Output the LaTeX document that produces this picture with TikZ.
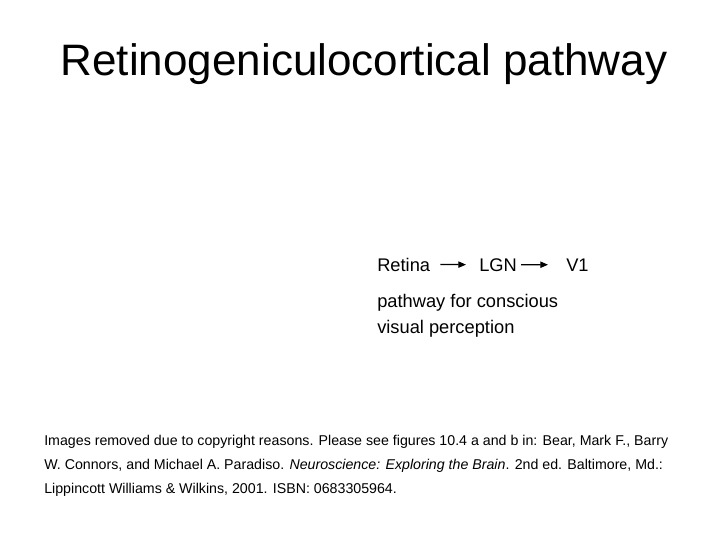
\documentclass[tikz,border=0pt]{standalone}
\usepackage{fontspec}
\setmainfont{Liberation Sans}
\usetikzlibrary{arrows.meta}
\tikzset{
  title/.style={font=\fontsize{31.3}{38}\selectfont, inner sep=0pt},
  label/.style={font=\fontsize{13}{16}\selectfont, inner sep=0pt, anchor=base west},
  note/.style={font=\fontsize{13}{17.8}\selectfont, inner sep=0pt, anchor=base west, align=left},
  credit/.style={font=\fontsize{10.1}{17}\selectfont, inner sep=0pt, anchor=base west, align=left},
  flow/.style={-{Triangle[length=5.5pt,width=4.5pt]}, line width=0.9pt}
}
\begin{document}
\begin{tikzpicture}[x=0.025cm, y=-0.025cm]
  % Page frame
  \useasboundingbox (0,0) rectangle (720,540);

  % Title
  \node[title, anchor=base] (title) at (364,75) {Retinogeniculocortical pathway};

  % Pathway
  \node[label] (retina) at (377,271) {Retina};
  \node[label] (lgn) at (479,271) {LGN};
  \node[label] (v1) at (566,271) {V1};
  \draw[flow, shorten <=10*0.025cm, shorten >=13*0.025cm] (retina.east) -- (lgn.west);
  \draw[flow, shorten <=4*0.025cm, shorten >=18*0.025cm] (lgn.east) -- (v1.west);

  % Note under the pathway (base = last line)
  \node[note] (what) at (377,333) {pathway for conscious\\visual perception};

  % Credit line (base = last line)
  \node[credit] (credit) at (44,493) {Images removed due to copyright reasons. Please see figures 10.4 a and b in: Bear, Mark F., Barry\\W. Connors, and Michael A. Paradiso. \textit{Neuroscience: Exploring the Brain}. 2nd ed. Baltimore, Md.:\\Lippincott Williams \& Wilkins, 2001. ISBN: 0683305964.};
\end{tikzpicture}
\end{document}
